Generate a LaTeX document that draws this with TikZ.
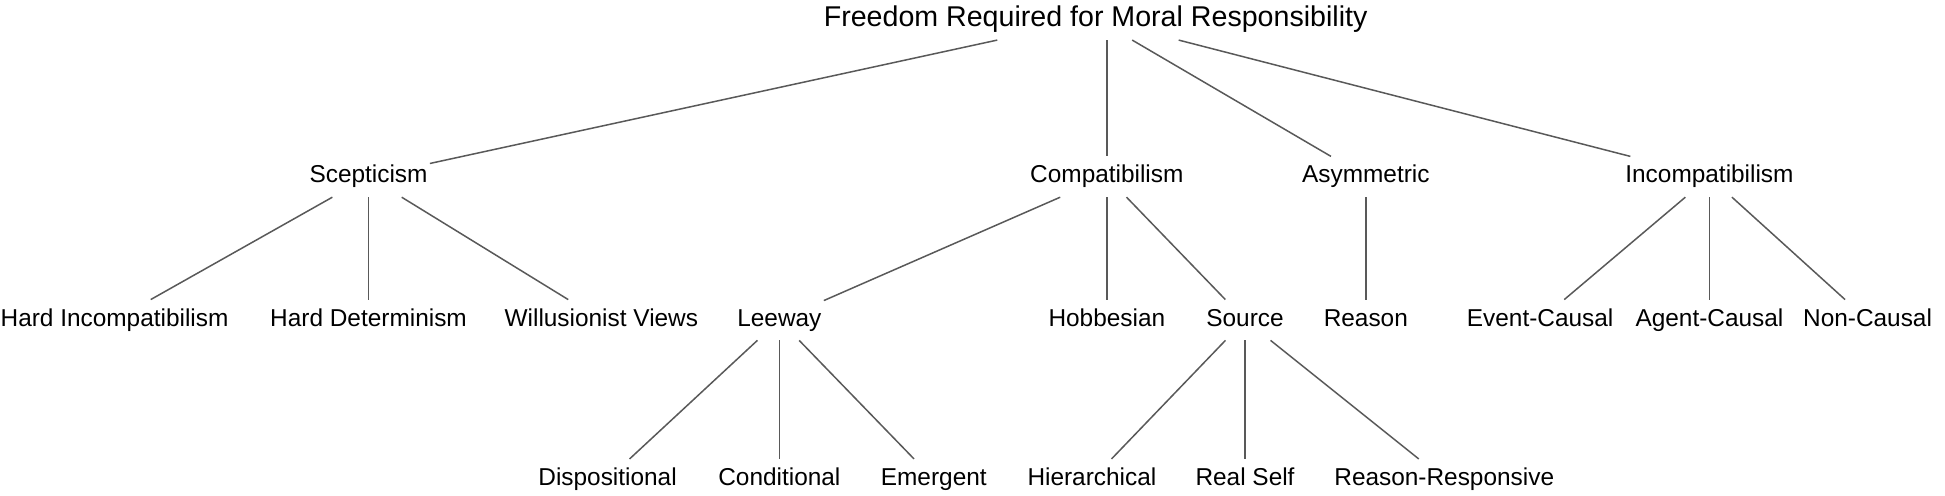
\documentclass[tikz,border=0pt]{standalone}
\usepackage{fontspec}
\setmainfont{Liberation Sans}
\begin{document}
\begin{tikzpicture}[x=0.6225pt, y=-0.6225pt,
    lbl/.style={font=\fontsize{12.2}{14}\selectfont, text height=8.7pt, text depth=2.5pt, minimum height=20pt, inner sep=1pt},
    toplbl/.style={font=\fontsize{14.3}{16}\selectfont, text height=10.5pt, text depth=3pt, minimum height=21pt, inner sep=1pt},
    edge/.style={draw=black!65, line width=0.75pt}]

    %% Background
    \useasboundingbox (0,0) rectangle (1562.2,397.6);

    % Root
    \node[toplbl] (root) at (880,15) {Freedom Required for Moral Responsibility};

    % First level
    \node[lbl] (scep) at (296,142) {Scepticism};
    \node[lbl] (comp) at (889,142) {Compatibilism};
    \node[lbl] (asym) at (1097,142) {Asymmetric};
    \node[lbl] (incomp) at (1373,142) {Incompatibilism};

    % Second level
    \node[lbl] (hardinc) at (92,257) {Hard Incompatibilism};
    \node[lbl] (harddet) at (296,257) {Hard Determinism};
    \node[lbl] (will) at (483,257) {Willusionist Views};
    \node[lbl] (leeway) at (626,257) {Leeway};
    \node[lbl] (hobbes) at (889,257) {Hobbesian};
    \node[lbl] (source) at (1000,257) {Source};
    \node[lbl] (reason) at (1097,257) {Reason};
    \node[lbl] (event) at (1237,257) {Event-Causal};
    \node[lbl] (agent) at (1373,257) {Agent-Causal};
    \node[lbl] (noncaus) at (1500,257) {Non-Causal};

    % Third level
    \node[lbl] (dispo) at (488,385) {Dispositional};
    \node[lbl] (condi) at (626,385) {Conditional};
    \node[lbl] (emerg) at (750,385) {Emergent};
    \node[lbl] (hier) at (877,385) {Hierarchical};
    \node[lbl] (realself) at (1000,385) {Real Self};
    \node[lbl] (reasresp) at (1160,385) {Reason-Responsive};

    % Edges
    \foreach \a/\b in {root/scep, root/asym, root/incomp,
        scep/hardinc, scep/harddet, scep/will,
        comp/leeway, comp/hobbes, comp/source,
        asym/reason,
        incomp/event, incomp/agent, incomp/noncaus,
        leeway/dispo, leeway/condi, leeway/emerg,
        source/hier, source/realself, source/reasresp}
    {
    \draw[edge] (\a) -- (\b);
    }
    \draw[edge] (root.south -| comp) -- (comp);

\end{tikzpicture}
\end{document}
